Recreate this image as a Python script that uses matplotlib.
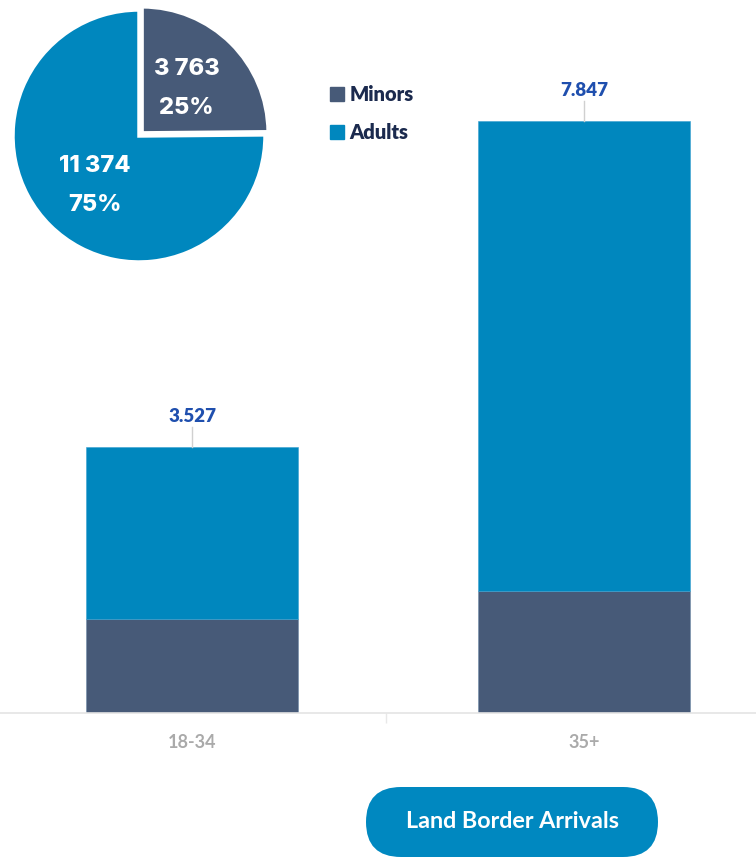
import matplotlib
matplotlib.use("Agg")
import matplotlib.pyplot as plt
from matplotlib.patches import Patch, FancyBboxPatch

# data
age_groups = ["18-34", "35+"]
minors = [1246, 1617]
adults = [2281, 6230]
totals = ["3.527", "7.847"]
pie_labels = ["Minors", "Adults"]
pie_values = [3763, 11374]

c_adult = "#0087be"
c_minor = "#475a78"
c_total = "#1f4fae"

W, H = 756, 858
fig = plt.figure(figsize=(W / 100, H / 100), dpi=100)

# stacked bars
ax = fig.add_axes([0, 145 / H, 1, 713 / H])
x = list(range(len(age_groups)))
ax.bar(x, minors, width=0.541, color=c_minor, edgecolor="#6f8aa8", linewidth=0.4)
ax.bar(x, adults, width=0.541, bottom=minors, color=c_adult, edgecolor="#3aa0d0", linewidth=0.4)
ymax = 9451
ax.set_xlim(-0.49, 1.439)
ax.set_ylim(0, ymax)
for i in x:
    top = minors[i] + adults[i]
    ax.plot([i, i], [top, top + 265], color="#d0d0d0", lw=1)
    ax.text(i, top + 400, totals[i], ha="center", va="center", fontsize=13.5,
            fontweight="heavy", color=c_total, family="Lato")
ax.set_xticks(x)
ax.set_xticklabels(age_groups, fontsize=13, fontweight="bold", color="#aaaaaa", family="Lato")
ax.set_xticks([0.495], minor=True)
ax.tick_params(axis="x", which="major", length=0, pad=15)
ax.tick_params(axis="x", which="minor", length=7, color="#e8e8e8", width=1)
ax.set_yticks([])
for s in ["top", "left", "right"]:
    ax.spines[s].set_visible(False)
ax.spines["bottom"].set_color("#e4e4e4")
ax.spines["bottom"].set_linewidth(1.2)

# pie
pax = fig.add_axes([13 / W, (H - 262) / H, 252 / W, 252 / H])
total = sum(pie_values)


def fmt(pct):
    v = round(pct * total / 100)
    return "{:,}".format(v).replace(",", " ") + "\n" + "{:.0f}%".format(pct)


wedges, _, autotexts = pax.pie(pie_values, colors=[c_minor, c_adult], startangle=90,
                               counterclock=False, explode=[0.035, 0],
                               autopct=fmt, pctdistance=0.5,
                               wedgeprops=dict(edgecolor="white", linewidth=2.5, clip_on=False))
for t in autotexts:
    t.set_color("white")
    t.set_fontsize(17)
    t.set_fontweight("heavy")
    t.set_family("Inter")
    t.set_linespacing(2.0)
# nudge the adults label a bit lower
px, py = autotexts[1].get_position()
autotexts[1].set_position((px, py - 0.04))
pax.set_xlim(-1, 1)
pax.set_ylim(-1, 1)
pax.set_aspect("equal")

handles = [Patch(color=c_minor), Patch(color=c_adult)]
leg = fig.legend(handles, pie_labels, loc="upper left", bbox_to_anchor=(312 / W, 1 - 67 / H),
                 frameon=False, handlelength=0.7, handleheight=0.7, handletextpad=0.25,
                 labelspacing=0.95, prop=dict(family="Lato", weight="heavy", size=14.5))
for t in leg.get_texts():
    t.set_color("#1b2a4e")

# button
bax = fig.add_axes([366 / W, 1 - 857 / H, 292 / W, 70 / H])
bax.set_xlim(0, 292)
bax.set_ylim(0, 70)
bax.axis("off")
bax.add_patch(FancyBboxPatch((0, 0), 292, 70, boxstyle="round,pad=0,rounding_size=35",
                             facecolor="#0088c0", edgecolor="none"))
bax.text(146, 35, "Land Border Arrivals", ha="center", va="center", color="white",
         fontsize=16.8, fontweight="bold", family="Lato")

fig.savefig("out.png", dpi=100)
